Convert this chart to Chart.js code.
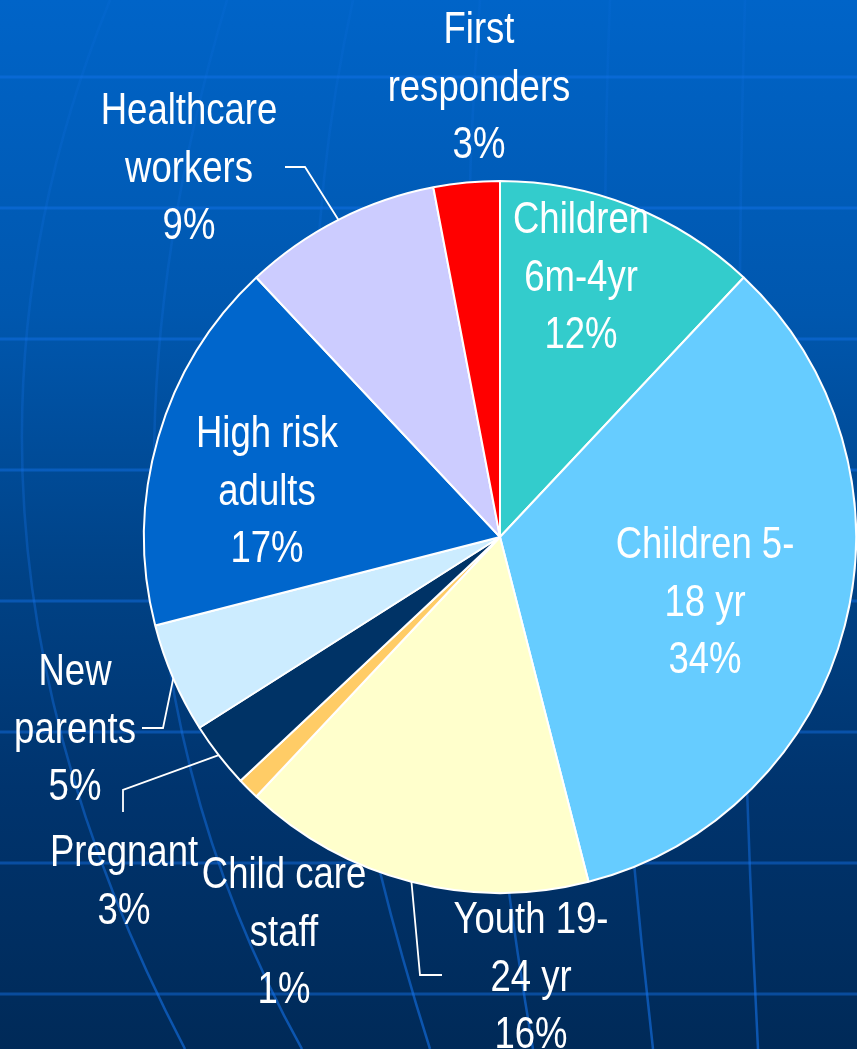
<!DOCTYPE html>
<html>
<head>
<meta charset="utf-8">
<script src="https://cdn.jsdelivr.net/npm/chart.js@4"></script>
<style>
    html, body { margin: 0; padding: 0; background: #003a78; }
    .wrap { width: 857px; height: 1049px; position: relative; }
</style>
</head>
<body>
<div class="wrap"><canvas id="pieChart"></canvas></div>
<script>
// Chart data
const categories = [
    ['Children', '6m-4yr'],
    ['Children 5-', '18 yr'],
    ['Youth 19-', '24 yr'],
    ['Child care', 'staff'],
    ['Pregnant'],
    ['New', 'parents'],
    ['High risk', 'adults'],
    ['Healthcare', 'workers'],
    ['First', 'responders']
];
const shares = [12, 34, 16, 1, 3, 5, 17, 9, 3];
const sliceColors = ['#33CCCC', '#66CCFF', '#FFFFCC', '#FFCC66', '#003366', '#CCECFF', '#0066CC', '#CCCCFF', '#FF0000'];

// label anchor (center x, first baseline) relative to pie center, px
const labelPos = [
    [81, -304], [205, 21], [31, 396], [-216, 351], [-376, 329],
    [-425, 148], [-233, -90], [-311, -413], [-21, -494]
];
// leader lines: elbow and end relative to pie center
const leaders = {
    2: [[-80, 438], [-58, 438]],
    4: [[-377, 253], [-377, 275]],
    5: [[-337, 191], [-358, 191]],
    7: [[-195, -370], [-215, -370]]
};

// narrow sans: Liberation Sans squeezed horizontally
const FONT = '44px "Liberation Sans", Arial, sans-serif';
const SQUEEZE = 0.83;
const LINE_H = 57.5;

// background: blue gradient with globe grid
const backdrop = {
    id: 'backdrop',
    beforeDraw(chart) {
        const ctx = chart.ctx;
        const w = chart.width, h = chart.height;
        ctx.save();
        const g = ctx.createLinearGradient(0, 0, 0, h);
        g.addColorStop(0, '#0064C8');
        g.addColorStop(0.3, '#0057AE');
        g.addColorStop(0.55, '#004286');
        g.addColorStop(0.75, '#00346E');
        g.addColorStop(1, '#002A58');
        ctx.fillStyle = g;
        ctx.fillRect(0, 0, w, h);

        ctx.strokeStyle = 'rgba(20, 115, 235, 0.45)';
        ctx.lineWidth = 3;
        for (let y = 77; y < h; y += 131) {
            ctx.beginPath();
            ctx.moveTo(0, y);
            ctx.lineTo(w, y);
            ctx.stroke();
        }
        // meridians, faint at the top
        const mg = ctx.createLinearGradient(0, 0, 0, h);
        mg.addColorStop(0, 'rgba(20, 115, 235, 0.12)');
        mg.addColorStop(0.5, 'rgba(20, 115, 235, 0.3)');
        mg.addColorStop(1, 'rgba(20, 115, 235, 0.6)');
        ctx.strokeStyle = mg;
        const meridians = [
            [110, -98, 509, 185],
            [227, 50, 596, 302],
            [353, 248, 476, 430],
            [480, 440, 500, 533],
            [610, 590, 500, 653],
            [745, 730, 500, 758]
        ];
        ctx.lineWidth = 2.5;
        meridians.forEach(m => {
            ctx.beginPath();
            ctx.moveTo(m[0], 0);
            ctx.quadraticCurveTo(m[1], m[2], m[3], h);
            ctx.stroke();
        });
        ctx.restore();
    }
};

// slice labels with leader lines
const sliceLabels = {
    id: 'sliceLabels',
    afterDatasetsDraw(chart) {
        const ctx = chart.ctx;
        const meta = chart.getDatasetMeta(0);
        ctx.save();
        ctx.fillStyle = '#ffffff';
        ctx.strokeStyle = '#ffffff';
        ctx.lineWidth = 1.8;
        ctx.font = FONT;
        ctx.textAlign = 'center';
        ctx.textBaseline = 'alphabetic';
        meta.data.forEach((arc, i) => {
            const p = arc.getProps(['x', 'y', 'startAngle', 'endAngle', 'outerRadius'], true);
            const cx = p.x, cy = p.y;
            if (leaders[i]) {
                const mid = (p.startAngle + p.endAngle) / 2;
                const sx = cx + Math.cos(mid) * p.outerRadius;
                const sy = cy + Math.sin(mid) * p.outerRadius;
                const [el, en] = leaders[i];
                ctx.beginPath();
                ctx.moveTo(sx, sy);
                ctx.lineTo(cx + el[0], cy + el[1]);
                ctx.lineTo(cx + en[0], cy + en[1]);
                ctx.stroke();
            }
            const lines = categories[i].concat([shares[i] + '%']);
            const lx = cx + labelPos[i][0];
            const ly = cy + labelPos[i][1];
            lines.forEach((t, k) => {
                ctx.save();
                ctx.translate(lx, ly + k * LINE_H);
                ctx.scale(SQUEEZE, 1);
                ctx.fillText(t, 0, 0);
                ctx.restore();
            });
        });
        ctx.restore();
    }
};

const ctx = document.getElementById('pieChart').getContext('2d');
new Chart(ctx, {
    type: 'pie',
    data: {
        labels: categories,
        datasets: [{
            data: shares,
            backgroundColor: sliceColors,
            borderColor: '#ffffff',
            borderWidth: 2,
            hoverOffset: 0
        }]
    },
    options: {
        responsive: true,
        maintainAspectRatio: false,
        animation: false,
        layout: {
            padding: { left: 143, right: 0, top: 180, bottom: 155 }
        },
        plugins: {
            legend: { display: false },
            tooltip: { enabled: false }
        }
    },
    plugins: [backdrop, sliceLabels]
});
</script>
</body>
</html>
